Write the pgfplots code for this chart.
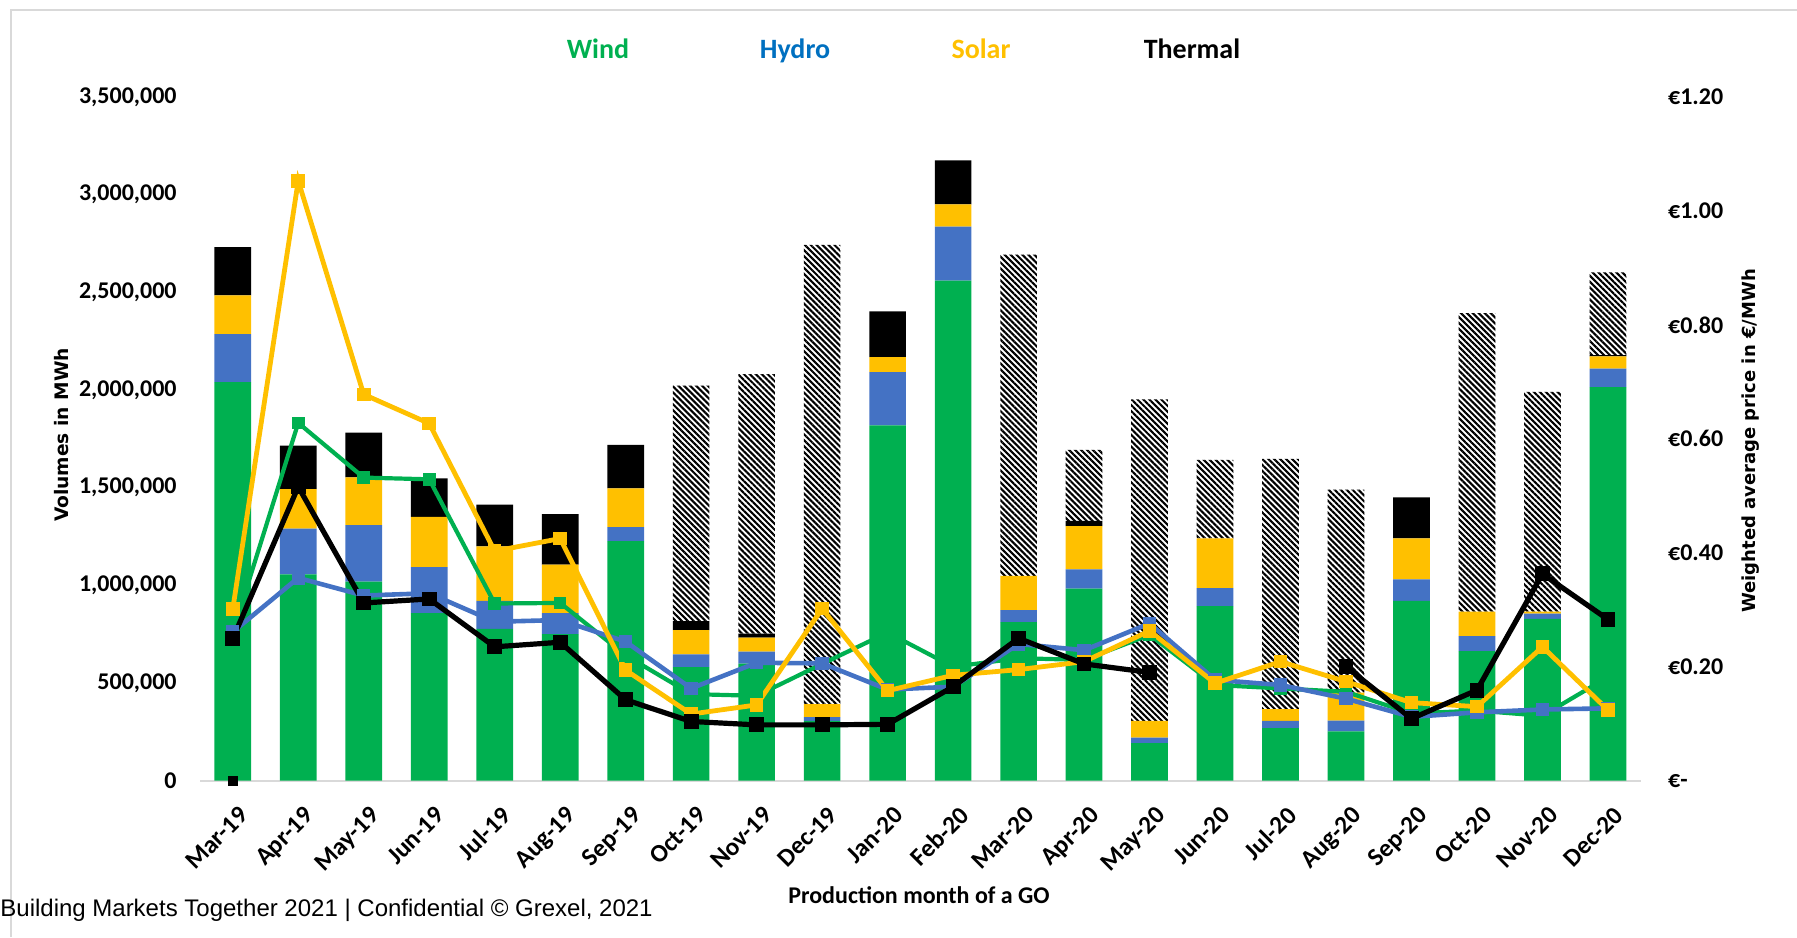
\documentclass[border=0pt]{standalone}
\usepackage{pgfplots}
\pgfplotsset{compat=1.18}
\usepackage{pgfplotstable}
\usetikzlibrary{patterns.meta}
\usepackage{fontspec}
\setmainfont{Carlito}
\newfontfamily\dejavu{DejaVu Sans}
\newfontfamily\arial{Liberation Sans}
\definecolor{wgreen}{HTML}{00B050}
\definecolor{hblue}{HTML}{4472C4}
\definecolor{syellow}{HTML}{FFC000}
\definecolor{legblue}{HTML}{0070C0}
\definecolor{frame}{HTML}{D9D9D9}

\pgfplotstableread{
x wind hydro solar thermal other
0 2040000 246000 199000 247000 0
1 1056000 235000 202000 223000 0
2 1019000 289000 245000 229000 0
3 858000 236000 257000 197000 0
4 777000 143000 279000 215000 0
5 750000 108000 248000 259000 0
6 1226000 72000 199000 222000 0
7 582000 65000 124000 46000 1205000
8 599000 62000 72000 20000 1328000
9 306000 19000 67000 0 2351000
10 1819000 273000 77000 234000 0
11 2560000 276000 114000 226000 0
12 812000 61000 175000 0 1645000
13 983000 99000 221000 27000 363000
14 192000 29000 85000 0 1646000
15 894000 92000 255000 0 402000
16 269000 37000 60000 0 1281000
17 252000 56000 143000 0 1039000
18 920000 111000 210000 209000 0
19 664000 76000 125000 0 1529000
20 829000 27000 9000 0 1125000
21 2015000 94000 63000 7000 423000
}\bardata

\pgfplotstableread{
x wind hydro solar thermal
0 0.260 0.261 0.301 0.249
1 0.628 0.356 1.053 0.516
2 0.532 0.325 0.678 0.312
3 0.529 0.329 0.627 0.319
4 0.311 0.279 0.403 0.235
5 0.312 0.282 0.425 0.243
6 0.220 0.244 0.194 0.142
7 0.152 0.162 0.117 0.104
8 0.149 0.207 0.133 0.098
9 0.205 0.206 0.302 0.098
10 0.260 0.160 0.158 0.099
11 0.200 0.165 0.185 0.165
12 0.215 0.240 0.195 0.250
13 0.212 0.229 0.209 0.205
14 0.256 0.276 0.263 0.190
15 0.168 0.177 0.171 nan
16 0.162 0.168 0.209 nan
17 0.156 0.144 0.174 0.200
18 0.118 0.112 0.137 0.109
19 0.123 0.120 0.130 0.159
20 0.114 0.125 0.235 0.363
21 0.182 0.127 0.124 0.283
}\pricedata

\begin{document}
\begin{tikzpicture}
\path[use as bounding box] (0pt,0pt) rectangle (898.5pt,-468.5pt);
\draw[frame, line width=1pt] (5.5pt,-468.5pt) -- (5.5pt,-5pt) -- (898.5pt,-5pt);

\begin{axis}[
  at={(100pt,-390.35pt)}, anchor=south west,
  scale only axis, width=720.35pt, height=341.85pt,
  xmin=-0.5, xmax=21.5, ymin=0, ymax=3500000,
  ybar stacked, bar width=0.56,
  axis x line*=bottom, axis y line*=left,
  x axis line style={draw=black!15, line width=1pt},
  y axis line style={draw=none},
  major tick length=0pt,
  xtick={0,1,...,21},
  xticklabels={Mar-19,Apr-19,May-19,Jun-19,Jul-19,Aug-19,Sep-19,Oct-19,Nov-19,Dec-19,Jan-20,Feb-20,Mar-20,Apr-20,May-20,Jun-20,Jul-20,Aug-20,Sep-20,Oct-20,Nov-20,Dec-20},
  xticklabel style={font=\fontsize{12.6pt}{14pt}\selectfont\bfseries, inner sep=0pt, xshift=2.5pt, rotate=45, anchor=north east},
  xticklabel shift=12pt,
  ytick={0,500000,1000000,1500000,2000000,2500000,3000000,3500000},
  yticklabels={0,{500,000},{1,000,000},{1,500,000},{2,000,000},{2,500,000},{3,000,000},{3,500,000}},
  yticklabel style={font=\fontsize{12pt}{14pt}\selectfont\bfseries, inner sep=0pt},
  yticklabel shift=11.5pt,
  scaled y ticks=false,
]
\addplot[fill=wgreen, draw=none] table[x=x,y=wind]{\bardata};
\addplot[fill=hblue, draw=none] table[x=x,y=hydro]{\bardata};
\addplot[fill=syellow, draw=none] table[x=x,y=solar]{\bardata};
\addplot[fill=black, draw=none] table[x=x,y=thermal]{\bardata};
\addplot[draw=none, pattern={Lines[angle=-45,distance=2.1pt,line width=1.05pt]}, pattern color=black] table[x=x,y=other]{\bardata};
\end{axis}

\begin{axis}[
  at={(100pt,-390.35pt)}, anchor=south west,
  scale only axis, width=720.35pt, height=341.85pt,
  xmin=-0.5, xmax=21.5, ymin=0, ymax=1.2,
  hide x axis, axis y line*=right,
  y axis line style={draw=none},
  major tick length=0pt,
  ytick={0,0.2,0.4,0.6,0.8,1.0,1.2},
  yticklabels={€-,€0.20,€0.40,€0.60,€0.80,€1.00,€1.20},
  yticklabel style={font=\fontsize{12pt}{14pt}\selectfont\bfseries, inner sep=0pt},
  yticklabel shift=13.5pt,
  clip=false, unbounded coords=jump,
]
\addplot[wgreen, line width=2.1pt, mark=square*, mark size=2.1pt, mark options={solid}] table[x=x,y=wind]{\pricedata};
\addplot[hblue, line width=2.3pt, mark=square*, mark size=2.2pt, mark options={solid}] table[x=x,y=hydro]{\pricedata};
\addplot[syellow, line width=2.4pt, mark=square*, mark size=2.2pt, mark options={solid}] table[x=x,y=solar]{\pricedata};
\addplot[black, line width=2.6pt, mark=square*, mark size=2.4pt, mark options={solid}] table[x=x,y=thermal]{\pricedata};
\addplot[black, only marks, mark=square*, mark size=2.4pt] coordinates {(0,0)};
\end{axis}

\node[anchor=base, text=wgreen, font=\fontsize{14pt}{16pt}\selectfont\bfseries] at (299pt,-29pt) {Wind};
\node[anchor=base, text=legblue, font=\fontsize{14pt}{16pt}\selectfont\bfseries] at (397.5pt,-29pt) {Hydro};
\node[anchor=base, text=syellow, font=\fontsize{14pt}{16pt}\selectfont\bfseries] at (490.5pt,-29pt) {Solar};
\node[anchor=base, text=black, font=\fontsize{14pt}{16pt}\selectfont\bfseries] at (596pt,-29pt) {Thermal};

\node[rotate=90, font=\dejavu\fontsize{9.3pt}{11pt}\selectfont\bfseries] at (30.85pt,-217.5pt) {Volumes in MWh};
\node[rotate=90, font=\dejavu\fontsize{9pt}{11pt}\selectfont\bfseries] at (875.5pt,-220.5pt) {Weighted average price in €/MWh};
\node[anchor=base, font=\fontsize{12pt}{14pt}\selectfont\bfseries] at (459.5pt,-451.5pt) {Production month of a GO};
\node[anchor=base west, inner sep=0pt, font=\arial\fontsize{12pt}{14pt}\selectfont] at (0pt,-458pt) {Building Markets Together 2021 | Confidential © Grexel, 2021};
\end{tikzpicture}
\end{document}
